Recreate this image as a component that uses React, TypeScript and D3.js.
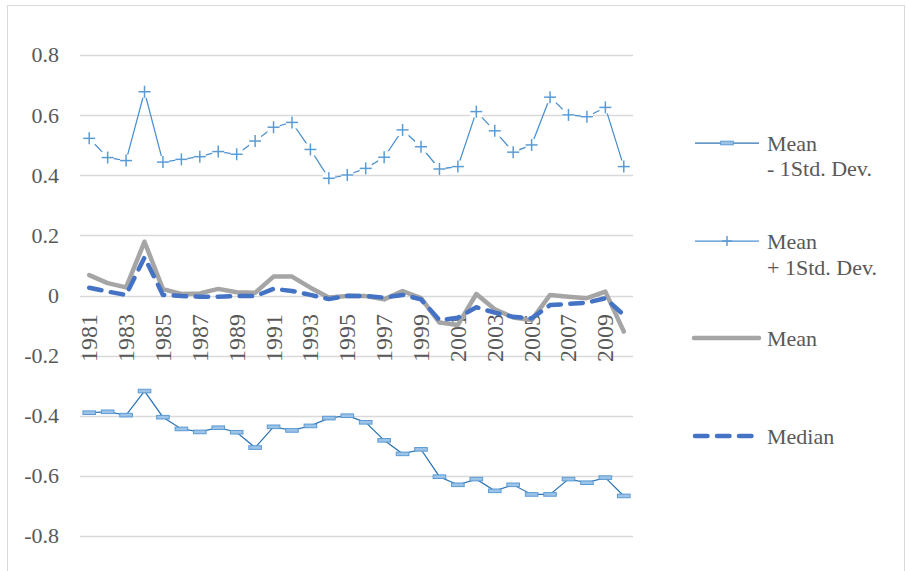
import React from "react";
import * as d3 from "d3";

const years = d3.range(1981, 2011).map(String);
const xTickLabels = ["1981","1983","1985","1987","1989","1991","1993","1995","1997","1999","2001","2003","2005","2007","2009"];
const yTicks = [0.8, 0.6, 0.4, 0.2, 0, -0.2, -0.4, -0.6, -0.8];

const minus1SD = [-0.390,-0.387,-0.398,-0.318,-0.405,-0.444,-0.454,-0.440,-0.455,-0.506,-0.437,-0.449,-0.434,-0.408,-0.400,-0.422,-0.482,-0.527,-0.512,-0.603,-0.630,-0.611,-0.650,-0.630,-0.662,-0.662,-0.611,-0.623,-0.606,-0.667];
const plus1SD = [0.523,0.459,0.449,0.678,0.444,0.453,0.462,0.479,0.470,0.514,0.560,0.576,0.486,0.390,0.401,0.423,0.460,0.551,0.495,0.421,0.429,0.612,0.548,0.477,0.501,0.660,0.601,0.595,0.626,0.429];
const meanVals = [0.068,0.041,0.027,0.179,0.021,0.005,0.007,0.022,0.011,0.009,0.063,0.063,0.026,-0.007,-0.002,-0.002,-0.013,0.015,-0.009,-0.090,-0.098,0.005,-0.046,-0.073,-0.082,0.002,-0.004,-0.009,0.013,-0.120];
const medianVals = [0.026,0.013,0.002,0.127,0.002,-0.002,-0.004,-0.004,-0.002,-0.002,0.022,0.015,0.002,-0.012,-0.001,-0.002,-0.007,0.002,-0.013,-0.082,-0.074,-0.039,-0.057,-0.071,-0.076,-0.032,-0.028,-0.024,-0.009,-0.065];

const W = 907, H = 571;
const FONT = "'Liberation Serif', 'Times New Roman', serif";
const TEXT = "#595959";
const GRID = "#D9D9D9";

const x = d3.scalePoint<string>().domain(years).range([80, 633]).padding(0.5);
const y = d3.scaleLinear().domain([-0.8, 0.8]).range([535.9, 55.1]);

const lineGen = d3.line<number>().x((_, i) => x(years[i]) as number).y(v => y(v));

function PlusMarker({ cx, cy, r, bg }: { cx: number; cy: number; r: number; bg: boolean }) {
  return (
    <g>
      {bg && <rect x={cx - r} y={cy - r} width={2 * r} height={2 * r} fill="#fff" />}
      <line x1={cx - r} x2={cx + r} y1={cy} y2={cy} stroke="#5B9BD5" strokeWidth={1.5} />
      <line x1={cx} x2={cx} y1={cy - r} y2={cy + r} stroke="#5B9BD5" strokeWidth={1.5} />
    </g>
  );
}

function RectMarker({ cx, cy }: { cx: number; cy: number }) {
  return <rect x={cx - 6.3} y={cy - 1.8} width={12.6} height={3.6} fill="#9DC3E6" stroke="#5B9BD5" strokeWidth={1} />;
}

export default function App() {
  return (
    <svg width={W} height={H} style={{ position: "absolute", left: 0, top: 0, display: "block", background: "#fff" }}>
      <rect x={7.5} y={5.5} width={897} height={620} fill="#fff" stroke={GRID} strokeWidth={1} />
      {yTicks.map(t => (
        <g key={t}>
          <line x1={80} x2={633} y1={Math.round(y(t)) + 0.5} y2={Math.round(y(t)) + 0.5} stroke={GRID} strokeWidth={1.3} />
          <text x={59} y={y(t) + 7.3} textAnchor="end" fontFamily={FONT} fontSize={22} fill={TEXT}>{t === 0 ? "0" : String(t)}</text>
        </g>
      ))}
      {xTickLabels.map(l => (
        <text key={l} transform={`translate(${x(l)},314) rotate(-90)`} textAnchor="end" dominantBaseline="central" fontFamily={FONT} fontSize={24} fill={TEXT}>{l}</text>
      ))}
      {/* Mean - 1 Std. Dev. */}
      <path d={lineGen(minus1SD) || ""} fill="none" stroke="#2E75B6" strokeWidth={1.25} />
      {minus1SD.map((v, i) => <RectMarker key={i} cx={x(years[i]) as number} cy={y(v)} />)}
      {/* Mean + 1 Std. Dev. */}
      <path d={lineGen(plus1SD) || ""} fill="none" stroke="#4A8FD0" strokeWidth={1.25} />
      {plus1SD.map((v, i) => <PlusMarker key={i} cx={x(years[i]) as number} cy={y(v)} r={6} bg={true} />)}
      {/* Mean */}
      <path d={lineGen(meanVals) || ""} fill="none" stroke="#A5A5A5" strokeWidth={4.5} strokeLinejoin="round" strokeLinecap="round" />
      {/* Median */}
      <path d={lineGen(medianVals) || ""} fill="none" stroke="#4472C4" strokeWidth={4.5} strokeDasharray="12.5 9.5" strokeLinejoin="round" strokeLinecap="round" />

      {/* Legend */}
      <g fontFamily={FONT} fontSize={22} fill={TEXT}>
        <line x1={695} x2={759} y1={143} y2={143} stroke="#2E75B6" strokeWidth={1.25} />
        <RectMarker cx={727} cy={143} />
        <text x={767} y={151}>Mean</text>
        <text x={767} y={176}>- 1Std. Dev.</text>

        <line x1={695} x2={759} y1={241} y2={241} stroke="#4A8FD0" strokeWidth={1.25} />
        <PlusMarker cx={727} cy={241} r={5} bg={false} />
        <text x={767} y={249}>Mean</text>
        <text x={767} y={275}>+ 1Std. Dev.</text>

        <line x1={694} x2={759} y1={338} y2={338} stroke="#A5A5A5" strokeWidth={4.5} strokeLinecap="round" />
        <text x={767} y={346}>Mean</text>

        <line x1={695} x2={755} y1={436} y2={436} stroke="#4472C4" strokeWidth={4.5} strokeDasharray="12.5 9.5" strokeLinecap="round" />
        <text x={767} y={444}>Median</text>
      </g>
    </svg>
  );
}
